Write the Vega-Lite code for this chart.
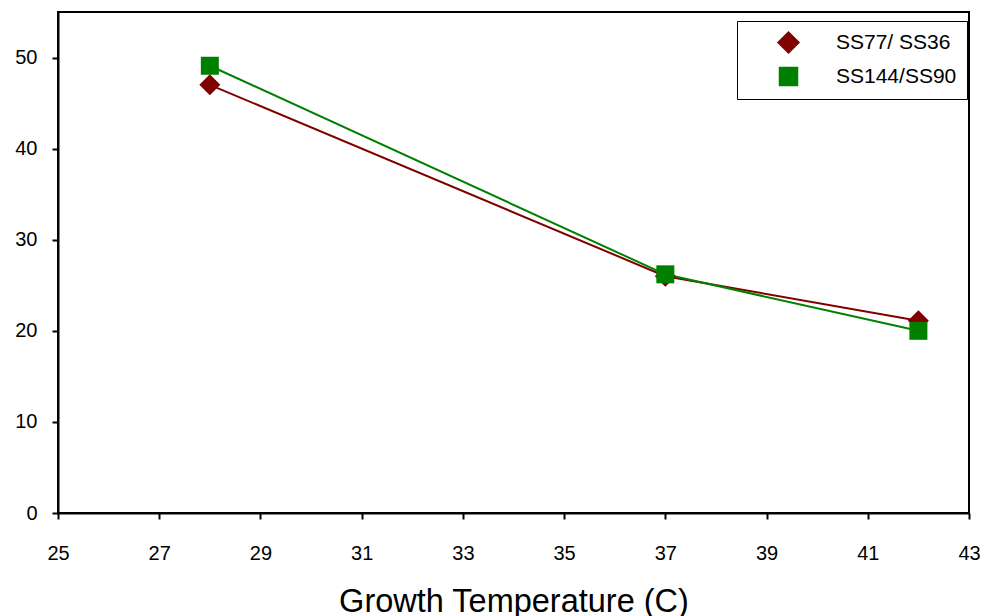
{
  "$schema": "https://vega.github.io/schema/vega-lite/v6.json",
  "width": 911,
  "height": 501,
  "autosize": {"type": "none"},
  "padding": {"left": 58, "top": 12, "right": 15, "bottom": 103},
  "background": "white",
  "config": {
    "font": "Liberation Sans",
    "view": {"stroke": "black", "strokeWidth": 2},
    "axis": {"grid": false, "domainColor": "black", "domainWidth": 2, "tickColor": "black", "tickWidth": 2, "tickSize": 6, "labelColor": "black", "labelFontSize": 20, "titleColor": "black", "labelFlush": false}
  },
  "data": {
    "values": [
      {"series": "SS77/ SS36", "temp": 28, "value": 47.0},
      {"series": "SS77/ SS36", "temp": 37, "value": 26.0},
      {"series": "SS77/ SS36", "temp": 42, "value": 21.1},
      {"series": "SS144/SS90", "temp": 28, "value": 49.1},
      {"series": "SS144/SS90", "temp": 37, "value": 26.2},
      {"series": "SS144/SS90", "temp": 42, "value": 20.0}
    ]
  },
  "encoding": {
    "x": {"field": "temp", "type": "quantitative", "title": "Growth Temperature (C)",
      "scale": {"domain": [25, 43], "nice": false, "zero": false},
      "axis": {"values": [25, 27, 29, 31, 33, 35, 37, 39, 41, 43], "labelPadding": 24, "titleFontSize": 32.5, "titleFontWeight": "normal", "titlePadding": 22}},
    "y": {"field": "value", "type": "quantitative", "title": null,
      "scale": {"domain": [0, 55], "nice": false},
      "axis": {"values": [0, 10, 20, 30, 40, 50], "labelPadding": 15}},
    "color": {"field": "series", "type": "nominal",
      "scale": {"domain": ["SS77/ SS36", "SS144/SS90"], "range": ["#800000", "#008000"]},
      "legend": {"title": null, "orient": "none", "legendX": 679, "legendY": 9,
        "strokeColor": "black", "fillColor": "white", "padding": 10,
        "labelFontSize": 21, "labelColor": "black", "symbolOffset": 30, "labelOffset": 36, "rowPadding": 8}
    }
  },
  "layer": [
    {
      "mark": {"type": "line", "strokeWidth": 2}
    },
    {
      "mark": {"type": "point", "filled": true, "opacity": 1},
      "encoding": {
        "shape": {"field": "series", "type": "nominal",
          "scale": {"domain": ["SS77/ SS36", "SS144/SS90"], "range": ["diamond", "square"]}, "legend": null},
        "size": {"field": "series", "type": "nominal", "scale": {"domain": ["SS77/ SS36", "SS144/SS90"], "range": [441, 324]}, "legend": null}
      }
    }
  ]
}
